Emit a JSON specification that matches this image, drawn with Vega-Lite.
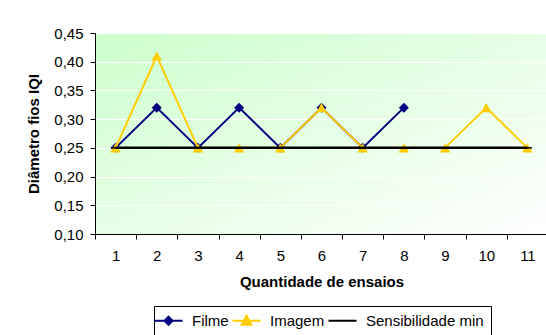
{
  "$schema": "https://vega.github.io/schema/vega-lite/v6.json",
  "autosize": {"type": "none"},
  "padding": {"left": 95, "top": 33, "right": 0, "bottom": 101},
  "width": 453,
  "height": 201,
  "background": "white",
  "config": {
    "font": "Liberation Sans",
    "view": {
      "stroke": null,
      "fill": {
        "gradient": "linear",
        "x1": 0, "y1": 0, "x2": 1, "y2": 1,
        "stops": [
          {"offset": 0, "color": "#ccffcc"},
          {"offset": 1, "color": "#ffffff"}
        ]
      }
    },
    "axis": {
      "domainColor": "black",
      "domainWidth": 1,
      "tickColor": "black",
      "tickSize": 5,
      "labelFont": "Liberation Sans",
      "labelFontSize": 15,
      "labelColor": "black",
      "titleFont": "Liberation Sans",
      "titleFontSize": 15,
      "titleFontWeight": "bold",
      "titleColor": "black"
    }
  },
  "data": {
    "values": [
      {"ensaio": 1, "serie": "Filme", "valor": 0.25},
      {"ensaio": 2, "serie": "Filme", "valor": 0.32},
      {"ensaio": 3, "serie": "Filme", "valor": 0.25},
      {"ensaio": 4, "serie": "Filme", "valor": 0.32},
      {"ensaio": 5, "serie": "Filme", "valor": 0.25},
      {"ensaio": 6, "serie": "Filme", "valor": 0.32},
      {"ensaio": 7, "serie": "Filme", "valor": 0.25},
      {"ensaio": 8, "serie": "Filme", "valor": 0.32},
      {"ensaio": 1, "serie": "Imagem", "valor": 0.25},
      {"ensaio": 2, "serie": "Imagem", "valor": 0.41},
      {"ensaio": 3, "serie": "Imagem", "valor": 0.25},
      {"ensaio": 4, "serie": "Imagem", "valor": 0.25},
      {"ensaio": 5, "serie": "Imagem", "valor": 0.25},
      {"ensaio": 6, "serie": "Imagem", "valor": 0.32},
      {"ensaio": 7, "serie": "Imagem", "valor": 0.25},
      {"ensaio": 8, "serie": "Imagem", "valor": 0.25},
      {"ensaio": 9, "serie": "Imagem", "valor": 0.25},
      {"ensaio": 10, "serie": "Imagem", "valor": 0.32},
      {"ensaio": 11, "serie": "Imagem", "valor": 0.25},
      {"ensaio": 1, "serie": "Sensibilidade min", "valor": 0.25},
      {"ensaio": 2, "serie": "Sensibilidade min", "valor": 0.25},
      {"ensaio": 3, "serie": "Sensibilidade min", "valor": 0.25},
      {"ensaio": 4, "serie": "Sensibilidade min", "valor": 0.25},
      {"ensaio": 5, "serie": "Sensibilidade min", "valor": 0.25},
      {"ensaio": 6, "serie": "Sensibilidade min", "valor": 0.25},
      {"ensaio": 7, "serie": "Sensibilidade min", "valor": 0.25},
      {"ensaio": 8, "serie": "Sensibilidade min", "valor": 0.25},
      {"ensaio": 9, "serie": "Sensibilidade min", "valor": 0.25},
      {"ensaio": 10, "serie": "Sensibilidade min", "valor": 0.25},
      {"ensaio": 11, "serie": "Sensibilidade min", "valor": 0.25}
    ]
  },
  "encoding": {
    "x": {
      "field": "ensaio",
      "type": "ordinal",
      "scale": {"paddingInner": 0, "paddingOuter": 0},
      "axis": {
        "title": "Quantidade de ensaios",
        "labelAngle": 0,
        "tickBand": "extent",
        "labelPadding": 9,
        "titlePadding": 11,
        "grid": false
      }
    },
    "y": {
      "field": "valor",
      "type": "quantitative",
      "scale": {"domain": [0.1, 0.45], "nice": false, "zero": false},
      "axis": {
        "title": "Diâmetro fios IQI",
        "values": [0.1, 0.15, 0.2, 0.25, 0.3, 0.35, 0.4, 0.45],
        "labelExpr": "replace(format(datum.value, '.2f'), '.', ',')",
        "labelPadding": 7,
        "titlePadding": 12,
        "grid": true,
        "gridColor": "white",
        "gridWidth": 1,
        "gridOpacity": 1
      }
    },
    "color": {
      "field": "serie",
      "type": "nominal",
      "scale": {
        "domain": ["Filme", "Imagem", "Sensibilidade min"],
        "range": ["#000080", "#ffcc00", "#000000"]
      },
      "legend": {
        "title": null,
        "orient": "none",
        "legendX": 59,
        "legendY": 273,
        "direction": "horizontal",
        "padding": 7,
        "strokeColor": "black",
        "fillColor": "white",
        "labelFont": "Liberation Sans",
        "labelFontSize": 15,
        "labelColor": "black",
        "columnPadding": -1,
        "labelOffset": 16,
        "symbolSize": 16,
        "encode": {
          "symbols": {
            "update": {
              "shape": {"signal": "datum.value === 'Filme' ? 'M-7,0H7M0,-2L2,0L0,2L-2,0Z' : datum.value === 'Imagem' ? 'M-7,0H7M0,-2.5L2.5,2L-2.5,2Z' : 'M-7,0H7'"},
              "stroke": {"scale": "color", "field": "value"},
              "fill": {"scale": "color", "field": "value"},
              "strokeWidth": {"value": 2},
              "size": {"value": 16},
              "opacity": {"value": 1}
            }
          }
        }
      }
    }
  },
  "layer": [
    {
      "transform": [{"filter": "datum.serie === 'Filme'"}],
      "mark": {"type": "line", "strokeWidth": 2}
    },
    {
      "transform": [{"filter": "datum.serie === 'Filme'"}],
      "mark": {"type": "point", "shape": "diamond", "size": 100, "filled": true, "opacity": 1}
    },
    {
      "transform": [{"filter": "datum.serie === 'Imagem'"}],
      "mark": {"type": "line", "strokeWidth": 2}
    },
    {
      "transform": [{"filter": "datum.serie === 'Imagem'"}],
      "mark": {"type": "point", "shape": "triangle-up", "size": 110, "filled": true, "opacity": 1}
    },
    {
      "transform": [{"filter": "datum.serie === 'Sensibilidade min'"}],
      "mark": {"type": "line", "strokeWidth": 2.5}
    },
    {
      "transform": [{"filter": "datum.serie === 'Sensibilidade min'"}],
      "mark": {"type": "point", "shape": "M-1,-0.17H1V0.17H-1Z", "size": 81, "filled": true, "opacity": 1}
    }
  ]
}
